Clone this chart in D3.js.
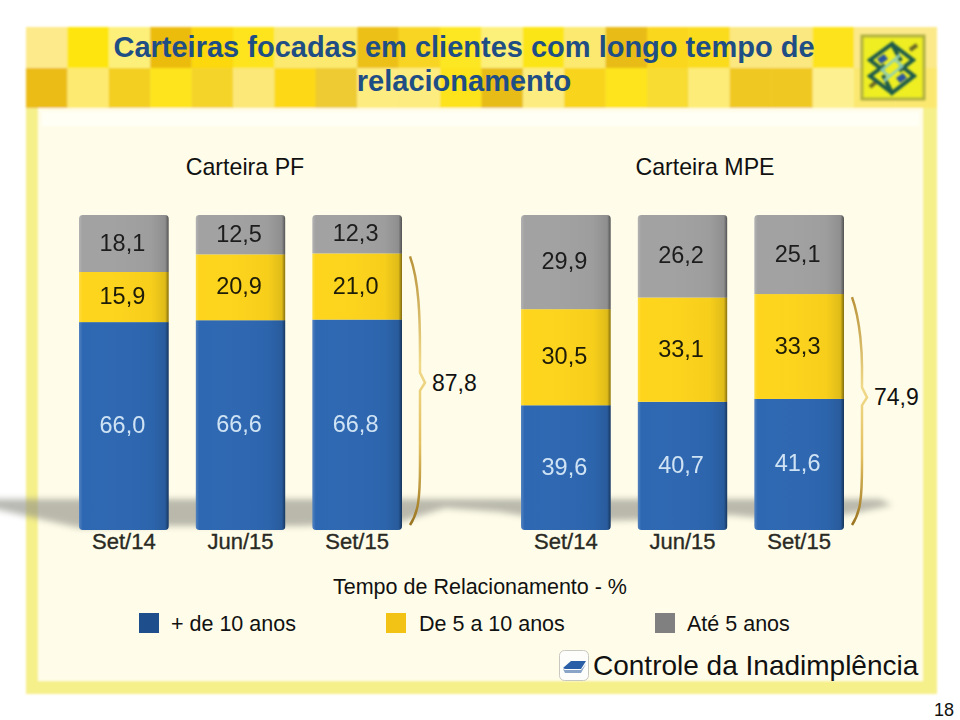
<!DOCTYPE html>
<html>
<head>
<meta charset="utf-8">
<script src="https://cdnjs.cloudflare.com/ajax/libs/d3/7.8.5/d3.min.js"></script>
<style>
html, body { margin: 0; padding: 0; background: #fff; }
svg { display: block; }
text { font-family: "Liberation Sans", Arial, sans-serif; }
</style>
</head>
<body>
<script>
// values
var months = ["Set/14", "Jun/15", "Set/15"];
var seriesKeys = ["+ de 10 anos", "De 5 a 10 anos", "Até 5 anos"];
var pfOver10 = [66.0, 66.6, 66.8];
var pf5to10 = [15.9, 20.9, 21.0];
var pfUpTo5 = [18.1, 12.5, 12.3];
var mpeOver10 = [39.6, 40.7, 41.6];
var mpe5to10 = [30.5, 33.1, 33.3];
var mpeUpTo5 = [29.9, 26.2, 25.1];
var barColors = ["#2e68b2", "#fed51c", "#a2a2a2"];
var legendColors = ["#1f4e8c", "#f2c314", "#808080"];
var labelColors = ["#cfe3f4", "#1c1a08", "#1c1c1c"];

// header tiles, one colour per 41px cell
var tilesTop = ["#fdea8a","#fde50a","#fdf07a","#ecbc10","#fcd810","#fde41a","#fbe96f","#fbe96f","#ecc012","#f8d520","#fde620","#fdf07a","#fce512","#fbe96f","#e8bb14","#fad61a","#fbdc1a","#fbe880","#fbe880","#fde31a","#fbe98a","#fbe98a"];
var tilesBottom = ["#ecbc18","#fdea70","#f3cf20","#fde41e","#f5d42a","#fbe878","#fcd818","#eecb30","#fdec80","#fdec80","#fde31a","#e8bc14","#fdec80","#f8d41c","#fde41e","#f8dc30","#fdec78","#f0c820","#f0c820","#fdf090","#fbe870","#fbe870"];

var svg = d3.select("body").append("svg").attr("width", 960).attr("height", 720);
var defs = svg.append("defs");

defs.append("filter").attr("id", "blur").attr("x", "-10%").attr("y", "-60%").attr("width", "120%").attr("height", "220%")
    .append("feGaussianBlur").attr("stdDeviation", 3);
defs.append("filter").attr("id", "soft")
    .append("feGaussianBlur").attr("stdDeviation", 0.35);
defs.append("filter").attr("id", "tileBlur")
    .append("feGaussianBlur").attr("stdDeviation", 1);
defs.append("filter").attr("id", "logoBlur")
    .append("feGaussianBlur").attr("stdDeviation", 0.8);

var edge = defs.append("linearGradient").attr("id", "edge");
edge.append("stop").attr("offset", "0").attr("stop-color", "#fff").attr("stop-opacity", 0.18);
edge.append("stop").attr("offset", "0.04").attr("stop-color", "#fff").attr("stop-opacity", 0);
edge.append("stop").attr("offset", "0.8").attr("stop-color", "#000").attr("stop-opacity", 0.03);
edge.append("stop").attr("offset", "0.96").attr("stop-color", "#000").attr("stop-opacity", 0.12);
edge.append("stop").attr("offset", "1").attr("stop-color", "#000").attr("stop-opacity", 0.5);

var brace = defs.append("linearGradient").attr("id", "braceCol").attr("x1", 0).attr("x2", 0).attr("y1", 0).attr("y2", 1);
brace.append("stop").attr("offset", "0").attr("stop-color", "#b8923a");
brace.append("stop").attr("offset", "0.4").attr("stop-color", "#f0d98a");
brace.append("stop").attr("offset", "0.7").attr("stop-color", "#e3c060");
brace.append("stop").attr("offset", "1").attr("stop-color", "#9a7420");

// slide frame
var frame = svg.append("g").attr("filter", "url(#tileBlur)");
frame.append("rect").attr("x", 26).attr("y", 27).attr("width", 911).attr("height", 667).attr("fill", "#f6f08a");
var tileX = function(i) { return 26 + i * 41.4; };
frame.selectAll(".tileTop").data(tilesTop).enter().append("rect")
    .attr("x", function(d, i) { return tileX(i); }).attr("y", 27)
    .attr("width", 41.6).attr("height", 41).attr("fill", function(d) { return d; });
frame.selectAll(".tileBottom").data(tilesBottom).enter().append("rect")
    .attr("x", function(d, i) { return tileX(i); }).attr("y", 68)
    .attr("width", 41.6).attr("height", 40).attr("fill", function(d) { return d; });
frame.append("rect").attr("x", 38).attr("y", 108).attr("width", 885).attr("height", 573).attr("fill", "#fffde9");
frame.append("rect").attr("x", 42).attr("y", 112).attr("width", 877).attr("height", 14).attr("fill", "#fffff6");

// floor shadow behind the bars
svg.append("path").attr("d", "M-8,499 L880,499 L892,505 L860,512 L800,522 L730,515 L640,520 L560,522 L500,512 L445,508 L400,522 L300,526 L160,526 L80,528 L0,510 L-8,508 Z")
    .attr("fill", "#8f8f86").attr("opacity", 0.62).attr("filter", "url(#blur)");

// logo
svg.append("rect").attr("x", 862).attr("y", 36).attr("width", 62).attr("height", 63)
    .attr("fill", "#eeee22").attr("stroke", "#b0b040").attr("stroke-width", 3).attr("filter", "url(#logoBlur)");
var logo = svg.append("g").attr("transform", "translate(892,68)").attr("filter", "url(#logoBlur)");
logo.append("path").attr("d", "M-22,19 L-16,14 M25,-23 L18,-18").attr("stroke", "#6a6a28").attr("stroke-width", 4).attr("fill", "none");
logo.append("path").attr("d", "M9,-7 L0,-24 L-22,-8 L-8,3 M-9,7 L0,25 L22,8 L8,-3 M0,-24 L21,-8 L7,3 M0,25 L-22,8 L-7,-3")
    .attr("stroke", "#1c5a4c").attr("stroke-width", 4).attr("fill", "none");
logo.append("path").attr("d", "M-15,-9 L-8,-14 L-4,-9 L-11,-4 Z M15,10 L8,15 L4,10 L11,5 Z").attr("fill", "#2a55a0");
logo.append("path").attr("d", "M8,-13 L-10,2 L-3,8 M-8,13 L10,-2 L3,-8").attr("stroke", "#8fd0b8").attr("stroke-width", 2.5).attr("fill", "none");

// title
var titleLines = ["Carteiras focadas em clientes com longo tempo de", "relacionamento"];
svg.selectAll(".title").data(titleLines).enter().append("text")
    .attr("class", "title").attr("x", 464)
    .attr("y", function(d, i) { return 57 + i * 34; })
    .attr("text-anchor", "middle").attr("font-size", 29).attr("font-weight", "bold")
    .attr("fill", "#1f4e85").text(function(d) { return d; });

var y = d3.scaleLinear().domain([0, 100]).range([530, 215]);

function drawPanel(title, titleX, range, values, total, totalLabelX, tipRatio) {
    var x = d3.scaleBand().domain(months).range(range).paddingInner(0.23);
    var stack = d3.stack().keys([0, 1, 2]).value(function(d, k) { return values[k][months.indexOf(d)]; })(months);
    var g = svg.append("g");

    g.append("text").attr("x", titleX).attr("y", 175).attr("text-anchor", "middle")
        .attr("font-size", 23.2).attr("fill", "#111").text(title);

    var clipId = "clip" + range[0];
    defs.append("clipPath").attr("id", clipId).selectAll("rect").data(months).enter().append("rect")
        .attr("x", function(d) { return x(d); }).attr("y", y(100))
        .attr("width", x.bandwidth()).attr("height", y(0) - y(100)).attr("rx", 4);

    var bars = g.append("g").attr("clip-path", "url(#" + clipId + ")");
    stack.forEach(function(layer, k) {
        bars.selectAll(".seg" + k).data(layer).enter().append("rect")
            .attr("x", function(d) { return x(d.data); })
            .attr("y", function(d) { return y(d[1]); })
            .attr("width", x.bandwidth())
            .attr("height", function(d) { return y(d[0]) - y(d[1]); })
            .attr("fill", barColors[k]);
    });
    bars.selectAll(".edge").data(months).enter().append("rect")
        .attr("x", function(d) { return x(d); }).attr("y", y(100))
        .attr("width", x.bandwidth()).attr("height", y(0) - y(100))
        .attr("fill", "url(#edge)");

    stack.forEach(function(layer, k) {
        g.selectAll(".val" + k).data(layer).enter().append("text")
            .attr("x", function(d) { return x(d.data) + x.bandwidth() / 2 - 1.5; })
            .attr("y", function(d) { return (y(d[0]) + y(d[1])) / 2 + 7; })
            .attr("text-anchor", "middle").attr("font-size", 23.5).attr("filter", "url(#soft)")
            .attr("fill", labelColors[k])
            .text(function(d) { return (d[1] - d[0]).toFixed(1).replace(".", ","); });
    });

    var axis = g.append("g").attr("transform", "translate(0," + y(0) + ")")
        .call(d3.axisBottom(x).tickSize(0).tickPadding(3));
    axis.select(".domain").remove();
    axis.selectAll("text").attr("font-size", 22).attr("fill", "#2a2a24")
        .attr("font-family", "Liberation Sans").attr("stroke", "#2a2a24").attr("stroke-width", 0.35);

    // brace from the stacked total down to the floor
    var bx = range[1] + 8;
    var top = y(total) + 3;
    var bottom = y(0) - 5;
    var tip = top + (bottom - top) * tipRatio;
    g.append("path")
        .attr("d", "M" + bx + "," + top + " C" + (bx + 9) + "," + (top + 25) + " " + (bx + 10) + "," + (top + 60) + " " + (bx + 10) + "," + (tip - 30) +
            " L" + (bx + 10) + "," + (tip - 10) + " L" + (bx + 15) + "," + tip + " L" + (bx + 10) + "," + (tip + 8) + " L" + (bx + 10) + "," + (bottom - 60) +
            " C" + (bx + 10) + "," + (bottom - 25) + " " + (bx + 8) + "," + (bottom - 12) + " " + bx + "," + bottom)
        .attr("fill", "none").attr("stroke", "url(#braceCol)").attr("stroke-width", 2.5);
    g.append("text").attr("x", totalLabelX).attr("y", tip + 8)
        .attr("font-size", 23).attr("fill", "#111").text(String(total).replace(".", ","));
}

drawPanel("Carteira PF", 245, [79, 402], [pfOver10, pf5to10, pfUpTo5], 87.8, 432, 0.47);
drawPanel("Carteira MPE", 705, [521, 844], [mpeOver10, mpe5to10, mpeUpTo5], 74.9, 874, 0.44);

// legend
svg.append("text").attr("x", 480).attr("y", 594).attr("text-anchor", "middle")
    .attr("font-size", 21.5).attr("fill", "#111").text("Tempo de Relacionamento - %");
var legendX = [139, 386, 655];
var legend = svg.selectAll(".legend").data(seriesKeys).enter().append("g")
    .attr("transform", function(d, i) { return "translate(" + legendX[i] + ",613)"; });
legend.append("rect").attr("width", 20).attr("height", 20).attr("fill", function(d, i) { return legendColors[i]; });
legend.append("text").attr("x", function(d, i) { return i == 0 ? 32 : i == 1 ? 33 : 32; }).attr("y", 18)
    .attr("font-size", 21.5).attr("fill", "#111").text(function(d) { return d; });

// footer badge
var badge = svg.append("g").attr("transform", "translate(559,650)");
badge.append("rect").attr("x", 0.5).attr("y", 0.5).attr("width", 29).attr("height", 30).attr("rx", 5).attr("fill", "#fdfdfb").attr("stroke", "#c8c8c0");
badge.append("path").attr("d", "M4,18 L12,11 L27,11 L22,19 L6,19 Z").attr("fill", "#2a5ea6");
badge.append("path").attr("d", "M4,19 L6,23 L22,23 L27,14 L22,20 L6,20 Z").attr("fill", "#8aa4c8");
svg.append("text").attr("x", 593).attr("y", 675).attr("font-size", 28).attr("fill", "#111").text("Controle da Inadimplência");
svg.append("text").attr("x", 954).attr("y", 716).attr("text-anchor", "end").attr("font-size", 18).attr("fill", "#111").text("18");
</script>
</body>
</html>
